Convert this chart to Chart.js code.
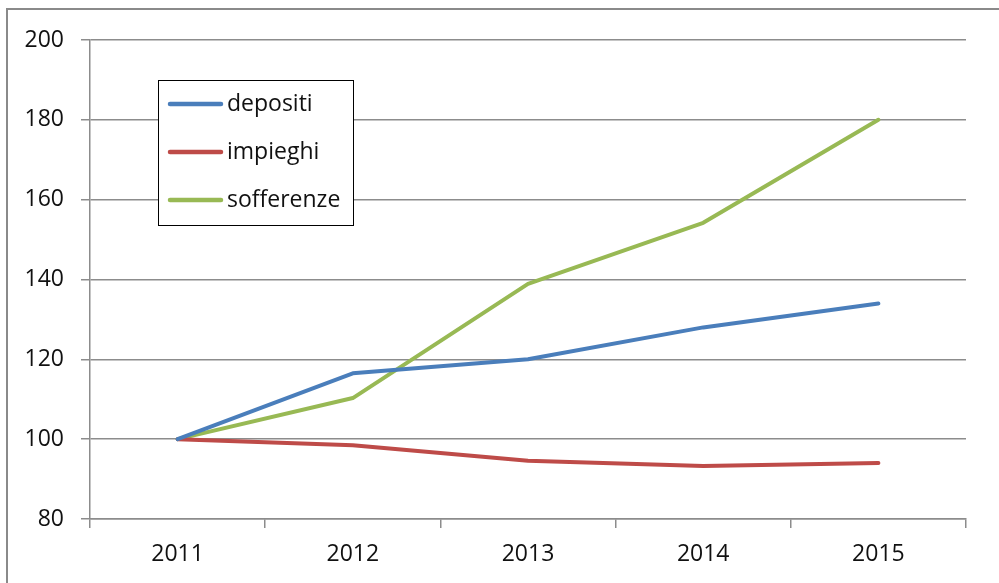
<!DOCTYPE html>
<html>
<head>
<meta charset="utf-8">
<script src="https://cdn.jsdelivr.net/npm/chart.js@4.4.1/dist/chart.umd.min.js"></script>
<style>
  html, body { margin: 0; padding: 0; background: #fff; overflow: hidden; }
  #frame { position: absolute; left: 6px; top: 8px; width: 1100px; height: 700px; border: 2px solid #8a8a8a; }
  #chart { position: absolute; left: 0; top: 0; }
</style>
</head>
<body>
<div id="frame"></div>
<canvas id="chart" width="999" height="583"></canvas>
<script>
const years = ['2011', '2012', '2013', '2014', '2015'];
const depositi = [100, 116.5, 120, 128, 134];
const impieghi = [100, 98.5, 94.6, 93.3, 94];
const sofferenze = [100, 110.3, 138.9, 154.2, 180];
const yTicks = [80, 100, 120, 140, 160, 180, 200];

const gridGray = '#8c8c8c';
const textColor = '#111';
const font = { family: '"Open Sans", sans-serif', size: 23 };

// legend drawn inside the plot, boxed like the original
const boxLegend = {
  id: 'boxLegend',
  afterDraw(chart) {
    const { ctx, chartArea } = chart;
    const x0 = chartArea.left + 68, y0 = chartArea.top + 40;
    ctx.save();
    ctx.strokeStyle = '#000';
    ctx.lineWidth = 1;
    ctx.fillStyle = '#fff';
    ctx.fillRect(x0 + 0.5, y0 + 0.5, 195, 145);
    ctx.strokeRect(x0 + 0.5, y0 + 0.5, 195, 145);
    ctx.font = font.size + 'px ' + font.family;
    ctx.textBaseline = 'middle';
    chart.data.datasets.forEach((ds, i) => {
      const y = y0 + 24 + i * 48;
      ctx.strokeStyle = ds.borderColor;
      ctx.lineWidth = 4.5;
      ctx.lineCap = 'round';
      ctx.beginPath();
      ctx.moveTo(x0 + 12, y);
      ctx.lineTo(x0 + 63, y);
      ctx.stroke();
      ctx.fillStyle = textColor;
      ctx.fillText(ds.label, x0 + 69, y);
    });
    ctx.restore();
  }
};

new Chart(document.getElementById('chart'), {
  type: 'line',
  data: {
    labels: years,
    datasets: [
      { label: 'depositi', data: depositi, borderColor: '#4a7ebb' },
      { label: 'impieghi', data: impieghi, borderColor: '#be4b48' },
      { label: 'sofferenze', data: sofferenze, borderColor: '#98b954' }
    ]
  },
  options: {
    responsive: false,
    animation: false,
    devicePixelRatio: 1,
    layout: { padding: { left: 0, top: 40, right: 33, bottom: 0 } },
    elements: {
      line: { borderWidth: 4, tension: 0, borderCapStyle: 'round', borderJoinStyle: 'round' },
      point: { radius: 0 }
    },
    plugins: { legend: { display: false }, tooltip: { enabled: false } },
    scales: {
      x: {
        offset: true,
        grid: { offset: true, drawOnChartArea: false, color: gridGray, tickLength: 9, lineWidth: 1.5 },
        border: { color: gridGray, width: 1.5 },
        ticks: { color: textColor, font: font, padding: 13 },
        afterFit(scale) { scale.height = 64; }
      },
      y: {
        min: yTicks[0],
        max: yTicks[yTicks.length - 1],
        afterBuildTicks(scale) { scale.ticks = yTicks.map(v => ({ value: v })); },
        grid: { color: gridGray, tickLength: 9, lineWidth: 1.5 },
        border: { color: gridGray, width: 1.5 },
        ticks: { color: textColor, font: font, padding: 17 },
        afterFit(scale) { scale.width = 90; }
      }
    }
  },
  plugins: [boxLegend]
});
</script>
</body>
</html>
